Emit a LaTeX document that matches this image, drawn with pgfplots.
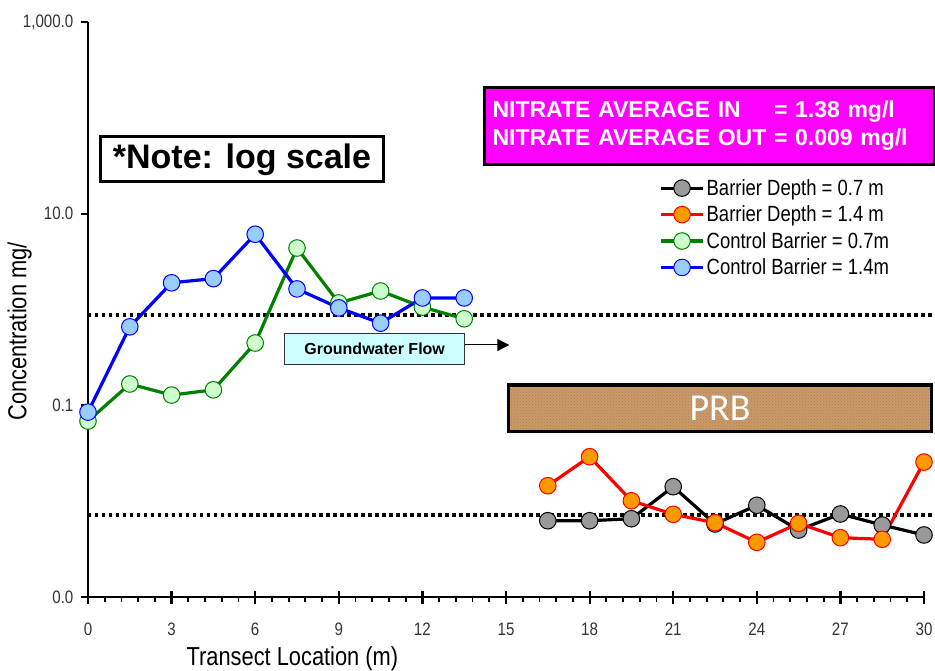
\documentclass[border=0pt]{standalone}
\usepackage{pgfplots}
\pgfplotsset{compat=1.18}
\usepackage{fontspec}
\setmainfont{Liberation Sans}
\newfontfamily\narrow[FakeStretch=0.84]{Liberation Sans}
\newfontfamily\calib{Carlito}
\usetikzlibrary{patterns,arrows.meta}

\definecolor{mkgray}{HTML}{999999}
\definecolor{mkorange}{HTML}{FF9900}
\definecolor{mkgreen}{HTML}{CCFFCC}
\definecolor{lngreen}{HTML}{008000}
\definecolor{mkblue}{HTML}{99CCFF}
\definecolor{lnblue}{HTML}{0000FF}
\definecolor{magbox}{HTML}{FF00FF}
\definecolor{flowbox}{HTML}{CCFFFF}
\definecolor{sand}{HTML}{CC9A66}
\definecolor{sanddark}{HTML}{7A4A22}
\definecolor{ticktext}{HTML}{333333}

\begin{document}
\begin{tikzpicture}
\useasboundingbox (-88pt,-73pt) rectangle (847pt,597pt);

\begin{axis}[
    scale only axis,
    width=836pt, height=575pt,
    at={(0pt,0pt)}, anchor=south west,
    line width=2.6pt,
    xmin=0, xmax=30,
    ymode=log, ymin=1e-3, ymax=1e3,
    axis x line*=bottom, axis y line*=left,
    axis line style={line width=2.6pt, -},
    x axis line style={line width=2.6pt},
    y axis line style={line width=2.6pt},
    clip=false,
    xtick={0,3,...,30}, minor x tick num=4,
    ytick={1e-3,1e-1,1e1,1e3},
    yticklabels={0.0,0.1,10.0,{1,000.0}},
    yminorticks=false,
    tick align=outside,
    major tick length=7pt, minor tick length=5pt,
    every major tick/.append style={line width=2.2pt, black},
    every minor tick/.append style={line width=1.8pt, black},
    extra x ticks={0,3,...,30}, extra x tick labels={},
    extra x tick style={tick align=center, major tick length=12pt},
    /pgf/number format/assume math mode=true,
    ticklabel style={font=\narrow\fontsize{18}{18}\selectfont, text=ticktext},
    xticklabel style={yshift=-14pt},
    yticklabel style={xshift=-3pt},
    xlabel={Transect Location (m)},
    ylabel={Concentration mg/},
    label style={font=\narrow\fontsize{26}{26}\selectfont, inner sep=0pt},
    xlabel style={at={(axis description cs:0.2445,-0.0835)}, anchor=north},
    ylabel style={at={(axis description cs:-0.0658,0.4617)}, anchor=south, rotate=0},
    legend style={at={(axis description cs:0.682,0.732)}, anchor=north west,
        draw=none, fill=none, inner sep=0pt, row sep=5pt,
        font=\narrow\fontsize{22}{22}\selectfont},
    legend cell align=left,
    legend image code/.code={
        \draw[mark repeat=2,mark phase=2,#1] plot coordinates {(0pt,0pt) (21pt,0pt) (42pt,0pt)};
    },
    mark size=8.3pt,
]

% reference levels
\addplot[forget plot, black, line width=3.5pt, dash pattern=on 3.5pt off 3.5pt]
    coordinates {(0,0.877) (30.4,0.877)};
\addplot[forget plot, black, line width=3.5pt, dash pattern=on 3.5pt off 3.5pt]
    coordinates {(0,0.00717) (30.4,0.00717)};

\addplot[black, line width=3.2pt, mark=*, mark options={fill=mkgray, draw=black, line width=1pt}]
    coordinates {(16.5,0.00625) (18,0.00625) (19.5,0.00656) (21,0.01416) (22.5,0.00578)
                 (24,0.00906) (25.5,0.0050) (27,0.00735) (28.5,0.00564) (30,0.00444)};
\addlegendentry{Barrier Depth = 0.7 m}

\addplot[red, line width=3.2pt, mark=*, mark options={fill=mkorange, draw=red, line width=1pt}]
    coordinates {(16.5,0.0145) (18,0.0291) (19.5,0.0101) (21,0.00729) (22.5,0.00596)
                 (24,0.00372) (25.5,0.00587) (27,0.00416) (28.5,0.0040) (30,0.0256)};
\addlegendentry{Barrier Depth = 1.4 m}

\addplot[lngreen, line width=3.2pt, mark=*, mark options={fill=mkgreen, draw=lngreen, line width=1pt}]
    coordinates {(0,0.0686) (1.5,0.167) (3,0.128) (4.5,0.145) (6,0.447)
                 (7.5,4.38) (9,1.17) (10.5,1.56) (12,1.06) (13.5,0.80)};
\addlegendentry{Control Barrier = 0.7m}

\addplot[lnblue, line width=3.2pt, mark=*, mark options={fill=mkblue, draw=lnblue, line width=1pt}]
    coordinates {(0,0.085) (1.5,0.66) (3,1.9) (4.5,2.1) (6,6.1)
                 (7.5,1.64) (9,1.04) (10.5,0.72) (12,1.32) (13.5,1.32)};
\addlegendentry{Control Barrier = 1.4m}

\end{axis}

% note box
\node[draw, line width=3pt, fill=white, minimum width=282pt, minimum height=45pt,
      inner sep=0pt, font=\bfseries\fontsize{34}{34}\selectfont]
    at (154pt,437.5pt) {*Note: log scale};

% nitrate averages
\node[draw, line width=3pt, fill=magbox, text=white, anchor=north west,
      text width=434pt, inner xsep=8pt, minimum height=77pt, align=left,
      font=\bfseries\fontsize{23}{28}\selectfont]
    at (395pt,511pt) {\begin{tabular}{@{}l@{ }l@{}}
        NITRATE AVERAGE IN & = 1.38 mg/l\\
        NITRATE AVERAGE OUT & = 0.009 mg/l
    \end{tabular}};

% groundwater flow
\node[draw=black!80, line width=1.5pt, fill=flowbox, minimum width=180pt, minimum height=31pt,
      inner sep=0pt, font=\bfseries\fontsize{16}{16}\selectfont]
    at (286.7pt,248.2pt) {Groundwater Flow};
\draw[line width=1pt, -{Triangle[length=12pt,width=12pt]}] (377pt,252pt) -- (421.3pt,252pt);

% PRB
\path[fill=sand] (420.3pt,165.3pt) rectangle (843.7pt,212pt);
\path[pattern=crosshatch dots, pattern color=sanddark!70] (420.3pt,165.3pt) rectangle (843.7pt,212pt);
\draw[line width=3.5pt] (420.3pt,165.3pt) rectangle (843.7pt,212pt);
\node[text=white, font=\calib\fontsize{38}{38}\selectfont] at (632pt,188.7pt) {PRB};

\end{tikzpicture}
\end{document}
